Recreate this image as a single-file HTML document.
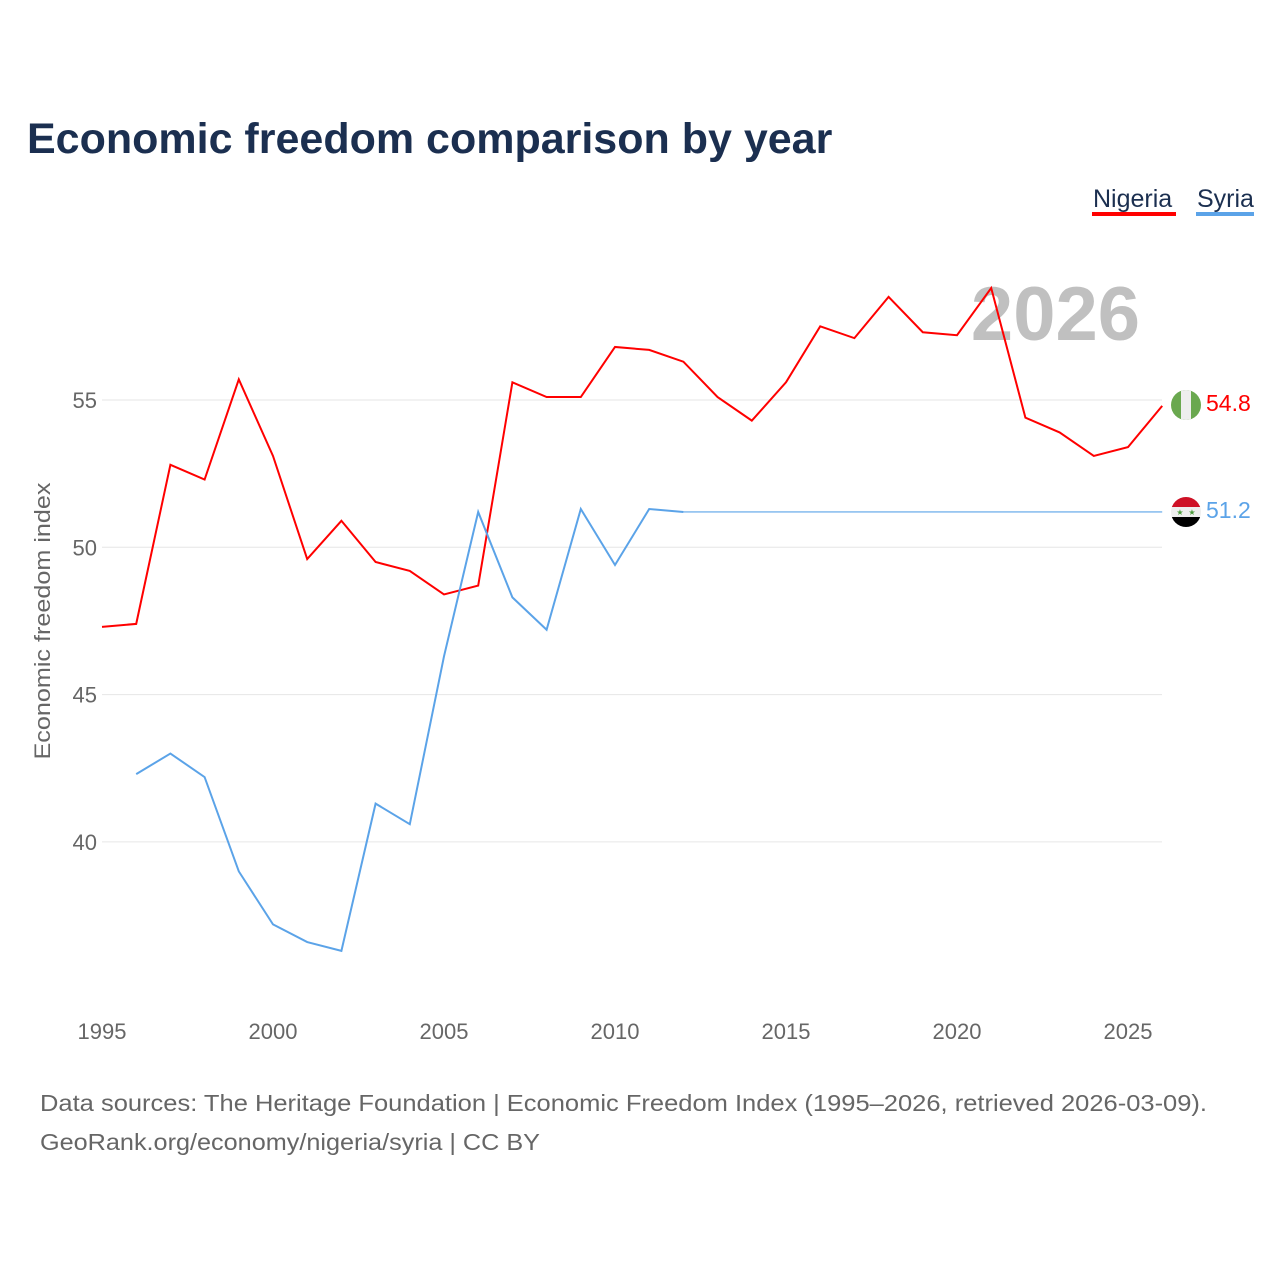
<!DOCTYPE html>
<html><head><meta charset="utf-8"><style>
body{margin:0;background:#fff;font-family:"Liberation Sans",sans-serif}
</style></head><body>
<svg width="1280" height="1280" xmlns="http://www.w3.org/2000/svg" style="font-family:'Liberation Sans',sans-serif">
<text x="27" y="153" font-size="43" font-weight="bold" fill="#1b2f50">Economic freedom comparison by year</text>
<g>
<g><text x="1093" y="207" font-size="25" fill="#1b2f50">Nigeria</text><rect x="1092" y="212" width="84" height="4" fill="#ff0000"/></g>
<g><text x="1197" y="207" font-size="25" fill="#1b2f50">Syria</text><rect x="1196" y="212" width="58" height="4" fill="#5ba3e8"/></g>
</g>
<text x="1140" y="340" font-size="76" font-weight="bold" fill="#c0c0c0" text-anchor="end">2026</text>
<g id="grid"></g>
<g id="xt"></g>
<text transform="translate(50,621) rotate(-90)" text-anchor="middle" font-size="22" fill="#666" textLength="277" lengthAdjust="spacingAndGlyphs">Economic freedom index</text>
<g id="lines"></g>
<g>
<clipPath id="c1"><circle cx="1186" cy="405" r="15"/></clipPath>
<g clip-path="url(#c1)"><rect x="1171" y="390" width="30" height="30" fill="#6aa84f"/><rect x="1181" y="390" width="10" height="30" fill="#eee"/></g></g>
<g>
<clipPath id="c2"><circle cx="1186" cy="512" r="15"/></clipPath>
<g clip-path="url(#c2)"><rect x="1171" y="497" width="30" height="10" fill="#ce1126"/><rect x="1171" y="507" width="30" height="10" fill="#eee"/><rect x="1171" y="517" width="30" height="10" fill="#000"/>
<text x="1180" y="515" font-size="8" fill="#4a9a3a" text-anchor="middle">★</text><text x="1192" y="515" font-size="8" fill="#4a9a3a" text-anchor="middle">★</text></g></g>
<text x="1206" y="411" font-size="23" fill="#ff0000">54.8</text>
<text x="1206" y="518" font-size="23" fill="#5ba3e8">51.2</text>
<text x="40" y="1111" font-size="23" fill="#666" textLength="1167" lengthAdjust="spacingAndGlyphs">Data sources: The Heritage Foundation | Economic Freedom Index (1995–2026, retrieved 2026-03-09).</text>
<text x="40" y="1150" font-size="23" fill="#666" textLength="500" lengthAdjust="spacingAndGlyphs">GeoRank.org/economy/nigeria/syria | CC BY</text>
</svg>
<script>
const years=[1995,1996,1997,1998,1999,2000,2001,2002,2003,2004,2005,2006,2007,2008,2009,2010,2011,2012,2013,2014,2015,2016,2017,2018,2019,2020,2021,2022,2023,2024,2025,2026];
const nigeria=[47.3,47.4,52.8,52.3,55.7,53.1,49.6,50.9,49.5,49.2,48.4,48.7,55.6,55.1,55.1,56.8,56.7,56.3,55.1,54.3,55.6,57.5,57.1,58.5,57.3,57.2,58.8,54.4,53.9,53.1,53.4,54.8];
const syriaYears=[1996,1997,1998,1999,2000,2001,2002,2003,2004,2005,2006,2007,2008,2009,2010,2011,2012];
const syria=[42.3,43.0,42.2,39.0,37.2,36.6,36.3,41.3,40.6,46.3,51.2,48.3,47.2,51.3,49.4,51.3,51.2];
const syriaLatest=51.2;
const yTicks=[40,45,50,55];
const xTicks=[1995,2000,2005,2010,2015,2020,2025];
const NS="http://www.w3.org/2000/svg";
const X=y=>102+(y-1995)*34.2;
const Y=v=>400+(55-v)*29.46;
function mk(tag,attrs,parent,txt){const e=document.createElementNS(NS,tag);for(const k in attrs)e.setAttribute(k,attrs[k]);if(txt!=null)e.textContent=txt;document.getElementById(parent).appendChild(e);return e;}
yTicks.forEach(t=>{
 const l=mk('line',{x1:102,x2:1162,y1:Y(t),y2:Y(t),stroke:'#e6e6e6','stroke-width':1},'grid');
 
 
 const tx=mk('text',{x:97,y:Y(t)+8,'text-anchor':'end','font-size':22,fill:'#666'},'grid',t);
 
 
});
xTicks.forEach(t=>{
 const tx=mk('text',{x:X(t),y:1039,'text-anchor':'middle','font-size':22,fill:'#666'},'xt',t);
 
 
});
const pn=mk('polyline',{points:years.map((y,i)=>X(y)+','+Y(nigeria[i])).join(' '),fill:'none',stroke:'#ff0000','stroke-width':2},'lines');


const ps=mk('polyline',{points:syriaYears.map((y,i)=>X(y)+','+Y(syria[i])).join(' '),fill:'none',stroke:'#5ba3e8','stroke-width':2},'lines');


const lastY=syriaYears[syriaYears.length-1];
const pe=mk('line',{x1:X(lastY),x2:X(2026),y1:Y(syriaLatest),y2:Y(syriaLatest),stroke:'#5ba3e8','stroke-width':1.2},'lines');


</script>
</body></html>
